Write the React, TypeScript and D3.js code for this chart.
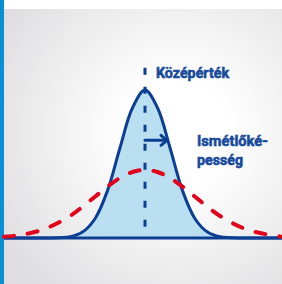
import * as d3 from 'd3';

// x in units of the narrow curve's spread, mean at 0
const xs = [-5.64, -5, -4, -3, -2.5, -2, -1.5, -1, -0.5, 0, 0.5, 1, 1.5, 2, 2.5, 3, 4, 5, 5.48];
// narrow (blue) curve height, peak = 1
const narrow = [0, 0, 0, 0.008, 0.04, 0.13, 0.32, 0.61, 0.88, 1, 0.88, 0.61, 0.32, 0.13, 0.04, 0.008, 0, 0, 0];
// wide (red dashed) curve height
const wide = [0.008, 0.02, 0.062, 0.149, 0.211, 0.279, 0.347, 0.406, 0.446, 0.46, 0.446, 0.406, 0.347, 0.279, 0.211, 0.149, 0.062, 0.02, 0.009];

const meanLabel = 'Középérték';
const spreadLabel = ['Ismétlőké-', 'pesség'];
const arrowEnd = 0.88;
const arrowLevel = 0.66;
const meanLineTop = 1.15;

const W = 282;
const H = 284;
const textColor = '#174a9c';
const curveColor = '#0c3f93';

export default function App() {
  const x = d3.scaleLinear().domain([-5.64, 5.48]).range([4, 282]);
  const y = d3.scaleLinear().domain([0, 1]).range([238, 90]);

  const pts = xs.map((v, i) => ({ x: v, n: narrow[i], w: wide[i] }));

  const narrowLine = d3.line<any>().x(d => x(d.x)).y(d => y(d.n)).curve(d3.curveCatmullRom);
  const narrowArea = d3.area<any>().x(d => x(d.x)).y0(y(0)).y1(d => y(d.n)).curve(d3.curveCatmullRom);
  const wideLine = d3.line<any>().x(d => x(d.x)).y(d => y(d.w)).curve(d3.curveCatmullRom);

  const ax = x(arrowEnd);
  const ay = y(arrowLevel);
  const font = "Roboto, 'Liberation Sans', sans-serif";

  return (
    <svg width={W} height={H} style={{ position: 'fixed', left: 0, top: 0 }}>
      <defs>
        <radialGradient id="bg" cx="0.62" cy="0.45" r="0.75">
          <stop offset="0.25" stopColor="#ffffff" />
          <stop offset="1" stopColor="#dedee0" />
        </radialGradient>
      </defs>
      <rect x={0} y={0} width={W} height={H} fill="#ffffff" />
      <rect x={4} y={9} width={W - 4} height={H - 9} fill="url(#bg)" />
      <rect x={0} y={0} width={4} height={H} fill="#0a8ed6" />

      {/* narrow curve fill */}
      <path d={narrowArea(pts) || ''} fill="#b9dff0" />

      {/* baseline */}
      <line x1={4} x2={W} y1={y(0)} y2={y(0)} stroke={curveColor} strokeWidth={3} />

      {/* narrow curve */}
      <path d={narrowLine(pts) || ''} fill="none" stroke={curveColor} strokeWidth={3} />

      {/* wide curve */}
      <path
        d={wideLine(pts) || ''}
        fill="none"
        stroke="#e2001a"
        strokeWidth={4}
        strokeDasharray="10 14"
        strokeLinecap="round"
      />

      {/* mean line */}
      <line
        x1={x(0)}
        x2={x(0)}
        y1={y(meanLineTop)}
        y2={y(0)}
        stroke={curveColor}
        strokeWidth={3}
        strokeDasharray="7 12"
      />

      {/* spread arrow */}
      <g stroke={curveColor} strokeWidth={3} fill="none" strokeLinecap="round" strokeLinejoin="round">
        <line x1={x(0)} x2={ax} y1={ay} y2={ay} />
        <polyline points={`${ax - 6},${ay - 5} ${ax},${ay} ${ax - 6},${ay + 5}`} />
      </g>

      <g fill={textColor} stroke={textColor} strokeWidth={0.6} fontFamily={font} fontWeight={700} fontSize={15.5}>
        <text x={156} y={78} textLength={73} lengthAdjust="spacingAndGlyphs">{meanLabel}</text>
        <text x={197} y={146} textLength={71} lengthAdjust="spacingAndGlyphs">{spreadLabel[0]}</text>
        <text x={197} y={165} textLength={46} lengthAdjust="spacingAndGlyphs">{spreadLabel[1]}</text>
      </g>
    </svg>
  );
}
